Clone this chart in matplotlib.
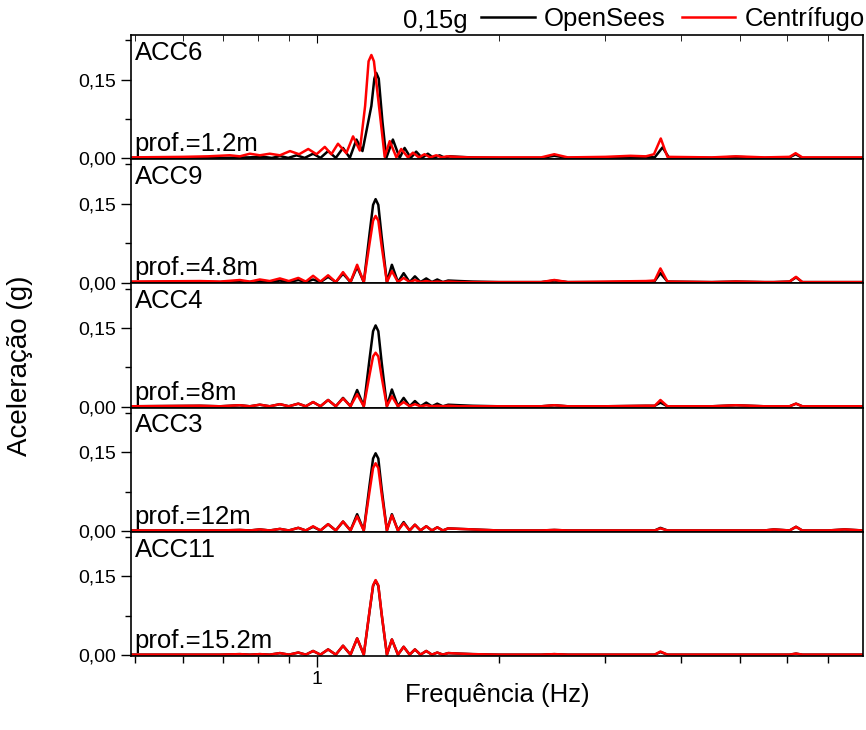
import matplotlib
matplotlib.use("Agg")
import matplotlib.pyplot as plt
from matplotlib.ticker import FixedLocator, FixedFormatter, NullFormatter

plt.rcParams['font.family'] = ['Liberation Sans', 'DejaVu Sans']

# panel names and depths
sensors = ['ACC6', 'ACC9', 'ACC4', 'ACC3', 'ACC11']
depths = ['prof.=1.2m', 'prof.=4.8m', 'prof.=8m', 'prof.=12m', 'prof.=15.2m']

# ACC6 (own frequency points, red curve is shifted a bit)
acc6_f_opensees = [0.49, 0.70, 0.77, 0.816, 0.843, 0.869, 0.897, 0.926, 0.955, 0.986, 1.014,
                   1.044, 1.075, 1.105, 1.134, 1.163, 1.190, 1.231, 1.245, 1.254, 1.266, 1.284,
                   1.303, 1.336, 1.371, 1.397, 1.43, 1.460, 1.493, 1.526, 1.56, 1.596, 1.63,
                   1.66, 1.72, 1.80, 2.0, 2.35, 2.47, 2.6, 3.0, 3.5, 3.62, 3.73, 3.82, 4.5,
                   4.93, 5.5, 6.05, 6.19, 6.35, 7.0, 8.0]
acc6_a_opensees = [0.001, 0.001, 0.002, 0.003, 0.001, 0.0045, 0.001, 0.006, 0.001, 0.009, 0.001,
                   0.014, 0.001, 0.020, 0.001, 0.036, 0.014, 0.100, 0.152, 0.163, 0.152, 0.070,
                   0.001, 0.036, 0.001, 0.020, 0.001, 0.013, 0.001, 0.009, 0.001, 0.006, 0.001,
                   0.004, 0.003, 0.002, 0.001, 0.001, 0.005, 0.001, 0.002, 0.003, 0.002, 0.021,
                   0.002, 0.001, 0.003, 0.001, 0.002, 0.008, 0.001, 0.001, 0.001]
acc6_f_centrifugo = [0.49, 0.60, 0.66, 0.718, 0.746, 0.775, 0.805, 0.836, 0.869, 0.903, 0.935,
                     0.968, 0.999, 1.031, 1.057, 1.084, 1.119, 1.148, 1.178, 1.202, 1.218, 1.231,
                     1.243, 1.270, 1.295, 1.320, 1.354, 1.379, 1.415, 1.442, 1.475, 1.507, 1.540,
                     1.576, 1.61, 1.64, 1.70, 1.79, 2.0, 2.35, 2.47, 2.6, 3.0, 3.3, 3.5, 3.61,
                     3.705, 3.80, 4.5, 4.93, 5.5, 6.05, 6.19, 6.35, 7.0, 8.0]
acc6_a_centrifugo = [0.002, 0.003, 0.004, 0.006, 0.004, 0.009, 0.006, 0.009, 0.006, 0.014, 0.008,
                     0.018, 0.008, 0.022, 0.008, 0.028, 0.010, 0.042, 0.015, 0.100, 0.185, 0.197,
                     0.185, 0.090, 0.003, 0.033, 0.002, 0.018, 0.002, 0.011, 0.002, 0.008, 0.002,
                     0.006, 0.002, 0.004, 0.003, 0.002, 0.002, 0.002, 0.008, 0.002, 0.003, 0.005,
                     0.004, 0.008, 0.038, 0.003, 0.002, 0.004, 0.002, 0.003, 0.010, 0.002, 0.002,
                     0.002]

# common frequency points for the other sensors (Hz)
freq = [0.49, 0.641, 0.692, 0.746, 0.775, 0.805, 0.836, 0.869, 0.899, 0.932, 0.959, 0.986,
        1.014, 1.044, 1.075, 1.105, 1.137, 1.166, 1.196, 1.223, 1.239, 1.251, 1.264, 1.280,
        1.306, 1.331, 1.362, 1.392, 1.424, 1.453, 1.484, 1.517, 1.550, 1.582, 1.616, 1.649,
        1.722, 1.811, 2.0, 2.35, 2.47, 2.6, 3.0, 3.5, 3.62, 3.70, 3.80, 4.5, 4.93, 5.5, 5.7,
        6.05, 6.2, 6.35, 7.0, 7.46, 8.0]

acc9_opensees = [0.001, 0.002, 0.001, 0.003, 0.001, 0.003, 0.001, 0.004, 0.001, 0.005, 0.001, 0.006,
                 0.001, 0.011, 0.001, 0.017, 0.001, 0.030, 0.001, 0.095, 0.148, 0.159, 0.148, 0.088,
                 0.001, 0.034, 0.001, 0.018, 0.001, 0.012, 0.001, 0.008, 0.001, 0.006, 0.001, 0.004,
                 0.003, 0.002, 0.001, 0.001, 0.004, 0.001, 0.001, 0.002, 0.003, 0.018, 0.002, 0.001,
                 0.002, 0.001, 0.001, 0.002, 0.010, 0.001, 0.001, 0.001, 0.001]
acc9_centrifugo = [0.002, 0.003, 0.002, 0.005, 0.002, 0.006, 0.003, 0.008, 0.003, 0.009, 0.002, 0.013,
                   0.002, 0.014, 0.001, 0.020, 0.001, 0.034, 0.001, 0.076, 0.118, 0.127, 0.118, 0.070,
                   0.001, 0.022, 0.001, 0.009, 0.001, 0.005, 0.001, 0.003, 0.001, 0.002, 0.001, 0.002,
                   0.001, 0.001, 0.001, 0.001, 0.005, 0.001, 0.002, 0.003, 0.004, 0.027, 0.002, 0.001,
                   0.002, 0.001, 0.001, 0.002, 0.011, 0.001, 0.001, 0.001, 0.001]

acc4_opensees = [0.001, 0.002, 0.001, 0.003, 0.001, 0.004, 0.001, 0.005, 0.001, 0.006, 0.001, 0.009,
                 0.001, 0.013, 0.001, 0.017, 0.001, 0.032, 0.001, 0.093, 0.144, 0.155, 0.144, 0.085,
                 0.001, 0.033, 0.001, 0.017, 0.001, 0.011, 0.001, 0.008, 0.001, 0.006, 0.001, 0.004,
                 0.003, 0.002, 0.001, 0.001, 0.003, 0.001, 0.001, 0.002, 0.002, 0.008, 0.001, 0.001,
                 0.003, 0.001, 0.001, 0.001, 0.006, 0.001, 0.001, 0.001, 0.001]
acc4_centrifugo = [0.001, 0.002, 0.001, 0.003, 0.001, 0.004, 0.001, 0.005, 0.001, 0.006, 0.001, 0.009,
                   0.001, 0.013, 0.001, 0.016, 0.001, 0.024, 0.001, 0.062, 0.096, 0.103, 0.096, 0.057,
                   0.001, 0.020, 0.001, 0.009, 0.001, 0.005, 0.001, 0.003, 0.001, 0.002, 0.001, 0.002,
                   0.001, 0.001, 0.001, 0.001, 0.003, 0.001, 0.001, 0.002, 0.002, 0.013, 0.001, 0.001,
                   0.003, 0.001, 0.001, 0.001, 0.006, 0.001, 0.001, 0.001, 0.001]

acc3_opensees = [0.001, 0.001, 0.001, 0.002, 0.001, 0.003, 0.001, 0.004, 0.001, 0.006, 0.001, 0.008,
                 0.001, 0.013, 0.001, 0.018, 0.001, 0.032, 0.001, 0.089, 0.138, 0.148, 0.138, 0.081,
                 0.001, 0.032, 0.001, 0.017, 0.001, 0.012, 0.001, 0.009, 0.001, 0.007, 0.001, 0.005,
                 0.004, 0.003, 0.001, 0.001, 0.002, 0.001, 0.001, 0.001, 0.001, 0.006, 0.001, 0.001,
                 0.001, 0.001, 0.003, 0.001, 0.008, 0.001, 0.001, 0.003, 0.001]
acc3_centrifugo = [0.001, 0.001, 0.001, 0.002, 0.001, 0.003, 0.001, 0.004, 0.001, 0.006, 0.001, 0.009,
                   0.001, 0.013, 0.001, 0.018, 0.001, 0.028, 0.001, 0.077, 0.120, 0.129, 0.120, 0.071,
                   0.001, 0.030, 0.001, 0.015, 0.001, 0.012, 0.001, 0.009, 0.001, 0.007, 0.001, 0.005,
                   0.004, 0.003, 0.001, 0.001, 0.002, 0.001, 0.001, 0.001, 0.001, 0.005, 0.001, 0.001,
                   0.001, 0.001, 0.003, 0.001, 0.008, 0.001, 0.001, 0.003, 0.001]

acc11_opensees = [0.001, 0.001, 0.001, 0.002, 0.001, 0.002, 0.001, 0.004, 0.001, 0.005, 0.001, 0.008,
                  0.001, 0.011, 0.001, 0.018, 0.001, 0.032, 0.001, 0.085, 0.132, 0.142, 0.132, 0.078,
                  0.001, 0.030, 0.001, 0.016, 0.001, 0.011, 0.001, 0.008, 0.001, 0.005, 0.001, 0.004,
                  0.003, 0.002, 0.001, 0.001, 0.002, 0.001, 0.001, 0.001, 0.001, 0.006, 0.001, 0.001,
                  0.001, 0.001, 0.001, 0.001, 0.003, 0.001, 0.001, 0.001, 0.001]
acc11_centrifugo = [0.001, 0.001, 0.001, 0.002, 0.001, 0.002, 0.001, 0.004, 0.001, 0.005, 0.001, 0.008,
                    0.001, 0.011, 0.001, 0.018, 0.001, 0.032, 0.001, 0.086, 0.133, 0.143, 0.133, 0.079,
                    0.001, 0.030, 0.001, 0.016, 0.001, 0.011, 0.001, 0.008, 0.001, 0.005, 0.001, 0.004,
                    0.003, 0.002, 0.001, 0.001, 0.002, 0.001, 0.001, 0.001, 0.001, 0.007, 0.001, 0.001,
                    0.001, 0.001, 0.001, 0.001, 0.003, 0.001, 0.001, 0.001, 0.001]

panels = [
    (acc6_f_opensees, acc6_a_opensees, acc6_f_centrifugo, acc6_a_centrifugo),
    (freq, acc9_opensees, freq, acc9_centrifugo),
    (freq, acc4_opensees, freq, acc4_centrifugo),
    (freq, acc3_opensees, freq, acc3_centrifugo),
    (freq, acc11_opensees, freq, acc11_centrifugo),
]

fs = 18.5

fig, axes = plt.subplots(5, 1, sharex=True, figsize=(8.66, 7.30), dpi=100)
fig.subplots_adjust(left=0.1513, right=0.9965, bottom=0.1014, top=0.952, hspace=0)

for i, ax in enumerate(axes):
    fb, ab, fr, ar = panels[i]
    ax.plot(fb, ab, color='black', lw=1.8, label='OpenSees')
    ax.plot(fr, ar, color='#ff0000', lw=1.8, label='Centrífugo')
    ax.set_xscale('log')
    ax.set_xlim(0.493, 8.0)
    ax.set_ylim(-0.0015, 0.235)
    ax.set_yticks([0.0, 0.15])
    ax.set_yticklabels(['0,00', '0,15'])
    ax.yaxis.set_minor_locator(FixedLocator([0.075, 0.225]))
    ax.tick_params(axis='y', which='major', direction='out', length=7, width=1, labelsize=14)
    ax.tick_params(axis='y', which='minor', direction='out', length=4, width=1)
    for s in ax.spines.values():
        s.set_linewidth(1.2)
    ax.text(0.005, 0.80, sensors[i], transform=ax.transAxes, fontsize=fs, va='baseline', ha='left')
    ax.text(0.005, 0.065, depths[i], transform=ax.transAxes, fontsize=fs, va='baseline', ha='left')
    if i < 4:
        ax.tick_params(axis='x', which='both', bottom=False, labelbottom=False)

bottom = axes[-1]
bottom.xaxis.set_major_locator(FixedLocator([1.0]))
bottom.xaxis.set_minor_locator(FixedLocator([0.5, 0.6, 0.7, 0.8, 0.9, 2, 3, 4, 5, 6, 7]))
bottom.xaxis.set_major_formatter(FixedFormatter(['1']))
bottom.xaxis.set_minor_formatter(NullFormatter())
bottom.tick_params(axis='x', which='major', direction='out', length=8, width=1, labelsize=14, pad=3)
bottom.tick_params(axis='x', which='minor', direction='out', length=5, width=1)
axes[0].tick_params(axis='x', which='both', top=True, direction='in')
axes[0].tick_params(axis='x', which='major', length=6)
axes[0].tick_params(axis='x', which='minor', length=4)

bottom.set_xlabel('Frequência (Hz)', fontsize=fs, labelpad=-4)
fig.text(20 / 866, 1 - 366 / 730, 'Aceleração (g)', rotation=90, fontsize=20, ha='center', va='center')

fig.text(403 / 866, 1 - 28 / 730, '0,15g', fontsize=fs, ha='left', va='baseline')
handles, labels = axes[0].get_legend_handles_labels()
fig.legend(handles, labels, loc='upper right', bbox_to_anchor=(1.0, 0.992), ncol=2, frameon=False,
           fontsize=fs, handlelength=2.1, handletextpad=0.35, columnspacing=0.62,
           borderaxespad=0.0, borderpad=0.05)

fig.savefig('out.png', dpi=100)
